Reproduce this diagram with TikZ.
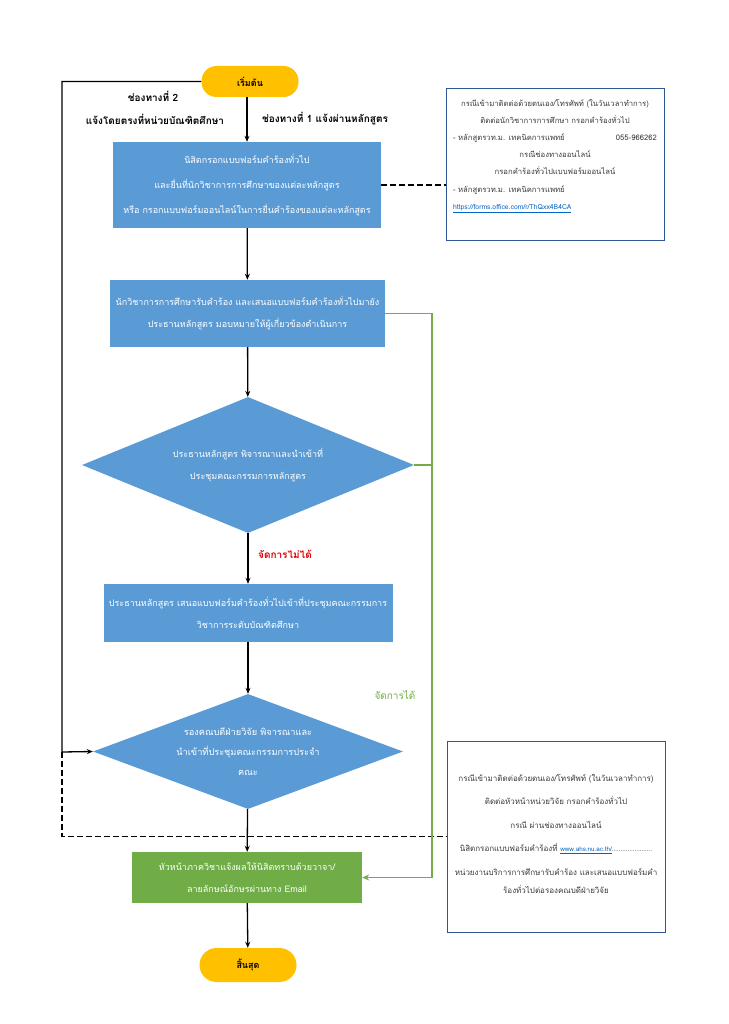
\documentclass[tikz,border=0pt]{standalone}
\usepackage{fontspec}
\setmainfont{Loma}[Script=Thai]
\usetikzlibrary{arrows.meta,shapes.geometric}
\definecolor{flowInk}{HTML}{000000}
\definecolor{flowBlue}{HTML}{5B9BD5}
\definecolor{flowGreen}{HTML}{70AD47}
\definecolor{flowGold}{HTML}{FFC000}
\definecolor{flowFrame}{HTML}{2F5597}
\definecolor{flowNote}{HTML}{3A3A3A}
\definecolor{flowRed}{HTML}{E00000}
\definecolor{flowLink}{HTML}{0563C1}
\tikzset{
  every picture/.style={font=\fontsize{9}{22}\selectfont, text=flowInk},
  flow box/.style={fill=flowBlue, text=white, align=center, inner sep=0pt},
  flow done/.style={fill=flowGreen, text=white, align=center, inner sep=0pt},
  flow decision/.style={diamond, fill=flowBlue, text=white, align=center,
    inner sep=0pt},
  flow term/.style={fill=flowGold, rounded corners=15pt, inner sep=0pt,
    font=\fontsize{9}{22}\selectfont\bfseries},
  flow note/.style={draw=flowFrame, line width=0.9pt, fill=white},
  flow note text/.style={text=flowNote, align=center, inner sep=0pt},
  flow label/.style={font=\fontsize{10}{20}\selectfont\bfseries, inner sep=0pt},
  flow arrow/.style={-{Stealth[length=6pt,width=5pt]}, draw=flowInk,
    line width=1.3pt},
  flow dash/.style={draw=flowInk, line width=1.5pt, dash pattern=on 6pt off 3pt},
  flow green/.style={draw=flowGreen, line width=1.6pt}
}

\begin{document}
\begin{tikzpicture}[x=1pt,y=-1pt]
  \useasboundingbox (0,0) rectangle (728,1024);
  % main column
  \node[flow term, minimum width=97pt, minimum height=31pt] (start) at (250,81.5) {เริ่มต้น};
  \node[flow box, minimum width=268pt, minimum height=86pt, font=\fontsize{9}{25}\selectfont] (fill) at (247,185)
    {นิสิตกรอกแบบฟอร์มคำร้องทั่วไป\\ และยื่นที่นักวิชาการการศึกษาของแต่ละหลักสูตร\\ หรือ กรอกแบบฟอร์มออนไลน์ในการยื่นคำร้องของแต่ละหลักสูตร};
  \node[flow box, minimum width=275pt, minimum height=67pt] (officer) at (247.5,313.5)
    {นักวิชาการการศึกษารับคำร้อง และเสนอแบบฟอร์มคำร้องทั่วไปมายัง\\ ประธานหลักสูตร มอบหมายให้ผู้เกี่ยวข้องดำเนินการ};
  \node[flow decision, aspect=2.44, minimum width=332pt, minimum height=136pt] (chair) at (248,465)
    {ประธานหลักสูตร พิจารณาและนำเข้าที่\\ ประชุมคณะกรรมการหลักสูตร};
  \node[flow box, minimum width=289pt, minimum height=58pt] (grad) at (248,613)
    {ประธานหลักสูตร เสนอแบบฟอร์มคำร้องทั่วไปเข้าที่ประชุมคณะกรรมการ\\ วิชาการระดับบัณฑิตศึกษา};
  \node[flow decision, aspect=2.7, minimum width=310pt, minimum height=115pt, font=\fontsize{9.2}{20}\selectfont] (dean) at (248,751.5)
    {รองคณบดีฝ่ายวิจัย พิจารณาและ\\ นำเข้าที่ประชุมคณะกรรมการประจำ\\ คณะ};
  \node[flow done, minimum width=230pt, minimum height=51pt] (inform) at (247,877.5)
    {หัวหน้าภาควิชาแจ้งผลให้นิสิตทราบด้วยวาจา/\\ ลายลักษณ์อักษรผ่านทาง Email};
  \node[flow term, minimum width=97pt, minimum height=34pt, rounded corners=17pt] (stop) at (248,965) {สิ้นสุด};

  % side notes
  \node[flow note, minimum width=218pt, minimum height=152pt] (note1) at (555,164) {};
  \node[flow note text, font=\fontsize{7.7}{17.2}\selectfont] (note1txt) at (555,156)
    {กรณีเข้ามาติดต่อด้วยตนเอง/โทรศัพท์ (ในวันเวลาทำการ)\\
     ติดต่อนักวิชาการการศึกษา กรอกคำร้องทั่วไป\\
     \makebox[204pt][l]{- หลักสูตรวท.ม. เทคนิคการแพทย์\hfill 055-966262}\\
     กรณีช่องทางออนไลน์\\
     กรอกคำร้องทั่วไปแบบฟอร์มออนไลน์\\
     \makebox[204pt][l]{- หลักสูตรวท.ม. เทคนิคการแพทย์}\\
     \makebox[204pt][l]{\fontsize{6.8}{17.2}\selectfont\color{flowLink}\underline{https://forms.office.com/r/ThQxx4B4CA}}};
  \node[flow note, minimum width=218pt, minimum height=191pt] (note2) at (556,836.5) {};
  \node[flow note text, font=\fontsize{8}{23.5}\selectfont] (note2txt) at (556,834)
    {กรณีเข้ามาติดต่อด้วยตนเอง/โทรศัพท์ (ในวันเวลาทำการ)\\
     ติดต่อหัวหน้าหน่วยวิจัย กรอกคำร้องทั่วไป\\
     กรณี ผ่านช่องทางออนไลน์\\
     นิสิตกรอกแบบฟอร์มคำร้องที่ {\fontsize{6.3}{23.5}\selectfont\color{flowLink}\underline{www.ahs.nu.ac.th/}}{\fontsize{6.3}{23.5}\selectfont.......................}\\
     หน่วยงานบริการการศึกษารับคำร้อง และเสนอแบบฟอร์มคำ\\[-5pt]
     ร้องทั่วไปต่อรองคณบดีฝ่ายวิจัย};

  % labels
  \node[flow label] (way2) at (153,96) {ช่องทางที่ 2};
  \node[flow label] (way2b) at (155,119) {แจ้งโดยตรงที่หน่วยบัณฑิตศึกษา};
  \node[flow label] (way1) at (325,119) {ช่องทางที่ 1 แจ้งผ่านหลักสูตร};
  \node[flow label, text=flowRed] (nogo) at (285,554) {จัดการไม่ได้};
  \node[flow label, font=\fontsize{10}{20}\selectfont, text=flowGreen] (go) at (395,695) {จัดการได้};

  \coordinate (railL) at (62,752);
  \coordinate (railR) at (432,0);

  % connectors
  \draw[flow arrow] (start.south -| fill) -- (fill);
  \draw[flow arrow] (fill) -- (officer);
  \draw[flow arrow] (officer) -- (chair);
  \draw[flow arrow] (chair) -- (grad);
  \draw[flow arrow] (grad) -- (dean);
  \draw[flow arrow] (dean) -- (inform);
  \draw[flow arrow] (inform) -- (stop);
  \draw[flow arrow] (start.west) -| (railL) -- (dean.west);
  \draw[flow dash] (fill.east) -- (note1.west |- fill.east);
  \draw[flow dash] (railL) |- (note2.west);
  \draw[flow green, -{Stealth[length=7pt,width=6pt]}] (officer.east) -| (railR |- inform.east) -- (inform.east);
  \draw[flow green] (chair.east) -- (chair.east -| railR);
\end{tikzpicture}
\end{document}
